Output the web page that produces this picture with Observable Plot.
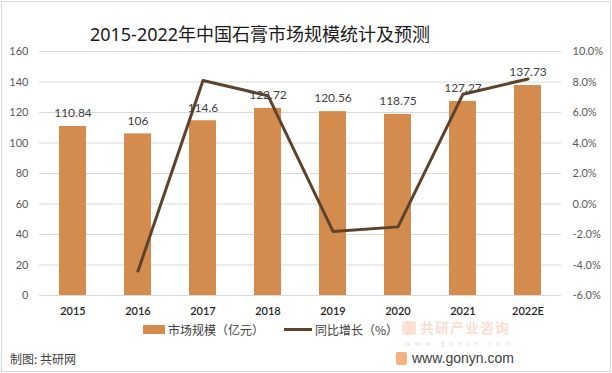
<!DOCTYPE html>
<html><head><meta charset="utf-8">
<script src="https://cdn.jsdelivr.net/npm/d3@7"></script>
<script src="https://cdn.jsdelivr.net/npm/@observablehq/plot@0.6"></script>
<style>
body{margin:0;background:#fff;font-family:Lato,"Noto Sans CJK SC",sans-serif;}
#wrap{position:relative;width:612px;height:373px;overflow:hidden;background:#fff;}
#frame{position:absolute;left:1px;top:1px;width:608px;height:369px;border:1px solid #d9d9d9;box-sizing:content-box;}
#title{position:absolute;left:0;width:520px;text-align:center;top:20px;font-size:18px;color:#1a1a1a;font-family:"Noto Sans","Noto Sans CJK SC",sans-serif;}
#chart{position:absolute;left:0;top:40px;}
#legend{position:absolute;top:321px;left:143px;font-size:12px;color:#404040;display:flex;align-items:center;font-family:"Noto Sans CJK SC",sans-serif;}
.sw{display:inline-block;}
#foot{position:absolute;left:10px;top:350px;font-size:12px;color:#404040;font-family:"Noto Sans CJK SC",sans-serif;}
#wm1{position:absolute;left:420px;top:318px;font-size:14px;line-height:18px;font-weight:bold;color:#f8e0d2;letter-spacing:1px;font-family:"Noto Sans CJK SC",sans-serif;}
#wmg{position:absolute;left:402px;top:321px;width:14px;height:14px;border-radius:3px;background:#fbe3d4;}
#wm2{position:absolute;left:405px;top:339px;font-size:7px;line-height:8px;color:#f3dccd;letter-spacing:4.5px;}
#wm3{position:absolute;left:412px;top:350px;font-size:14px;color:#404040;font-family:"Liberation Sans",sans-serif;}
#logo{position:absolute;left:396px;top:352px;width:11px;height:13px;border-radius:2px;background:#f4b183;}
</style></head>
<body><div id="wrap">
<div id="frame"></div>
<div id="title">2015-2022年中国石膏市场规模统计及预测</div>
<div id="chart"></div>
<div id="legend"><span class="sw" style="width:22px;height:9px;background:#d38c4e;margin-right:3px"></span><span>市场规模（亿元）</span><span class="sw" style="width:28px;height:3px;background:#5e432c;margin-left:20px;margin-right:3px"></span><span>同比增长（%）</span></div>
<div id="wmg"></div>
<div id="wm1">共研产业咨询</div>
<div id="wm2">www.gonyn.com</div>
<div id="logo"></div>
<div id="wm3">www.gonyn.com</div>
<div id="foot">制图: 共研网</div>
</div>
<script>
const years = ["2015","2016","2017","2018","2019","2020","2021","2022E"];
const market = [110.84,106,114.6,122.72,120.56,118.75,127.27,137.73];
const growth = [null,-4.4,8.1,7.1,-1.8,-1.5,7.2,8.2];
const leftTicks = [0,20,40,60,80,100,120,140,160];
const rightTicks = [-6,-4,-2,0,2,4,6,8,10];

const data = years.map((y,i)=>({year:y,value:market[i],g:growth[i]}));
const toLeft = g => (g + 6) * 10;
const lineData = data.filter(d=>d.g!==null);

const plot = Plot.plot({
  width: 612, height: 280,
  marginLeft: 39, marginRight: 51, marginTop: 11, marginBottom: 25,
  style:{fontFamily:'Lato,"Noto Sans CJK SC",sans-serif', fontSize:"11px", color:"#595959", background:"transparent"},
  x:{type:"band", domain:years, paddingInner:0.59, paddingOuter:0.295, label:null},
  y:{domain:[0,160], label:null},
  marks:[
    Plot.gridY(leftTicks,{stroke:"#d9d9d9",strokeOpacity:1}),
    Plot.barY(data,{x:"year",y:"value",fill:"#d38c4e"}),
    Plot.line(lineData,{x:"year",y:d=>toLeft(d.g),stroke:"#5e432c",strokeWidth:3}),
    Plot.text(data,{x:"year",y:"value",text:d=>String(d.value),dy:-13,fill:"#404040",fontSize:12}),
    Plot.axisY(leftTicks,{anchor:"left",tickSize:0,tickPadding:11,fill:"#595959",fontSize:11,label:null}),
    Plot.axisY(rightTicks.map(toLeft),{anchor:"right",tickSize:0,tickPadding:11,fill:"#595959",fontSize:11,label:null,tickFormat:v=>(v/10-6).toFixed(1)+"%"}),
    Plot.axisX({tickSize:0,tickPadding:12,fill:"#262626",fontSize:11,fontWeight:"600",label:null})
  ]
});
document.getElementById("chart").appendChild(plot);
</script>
</body></html>
